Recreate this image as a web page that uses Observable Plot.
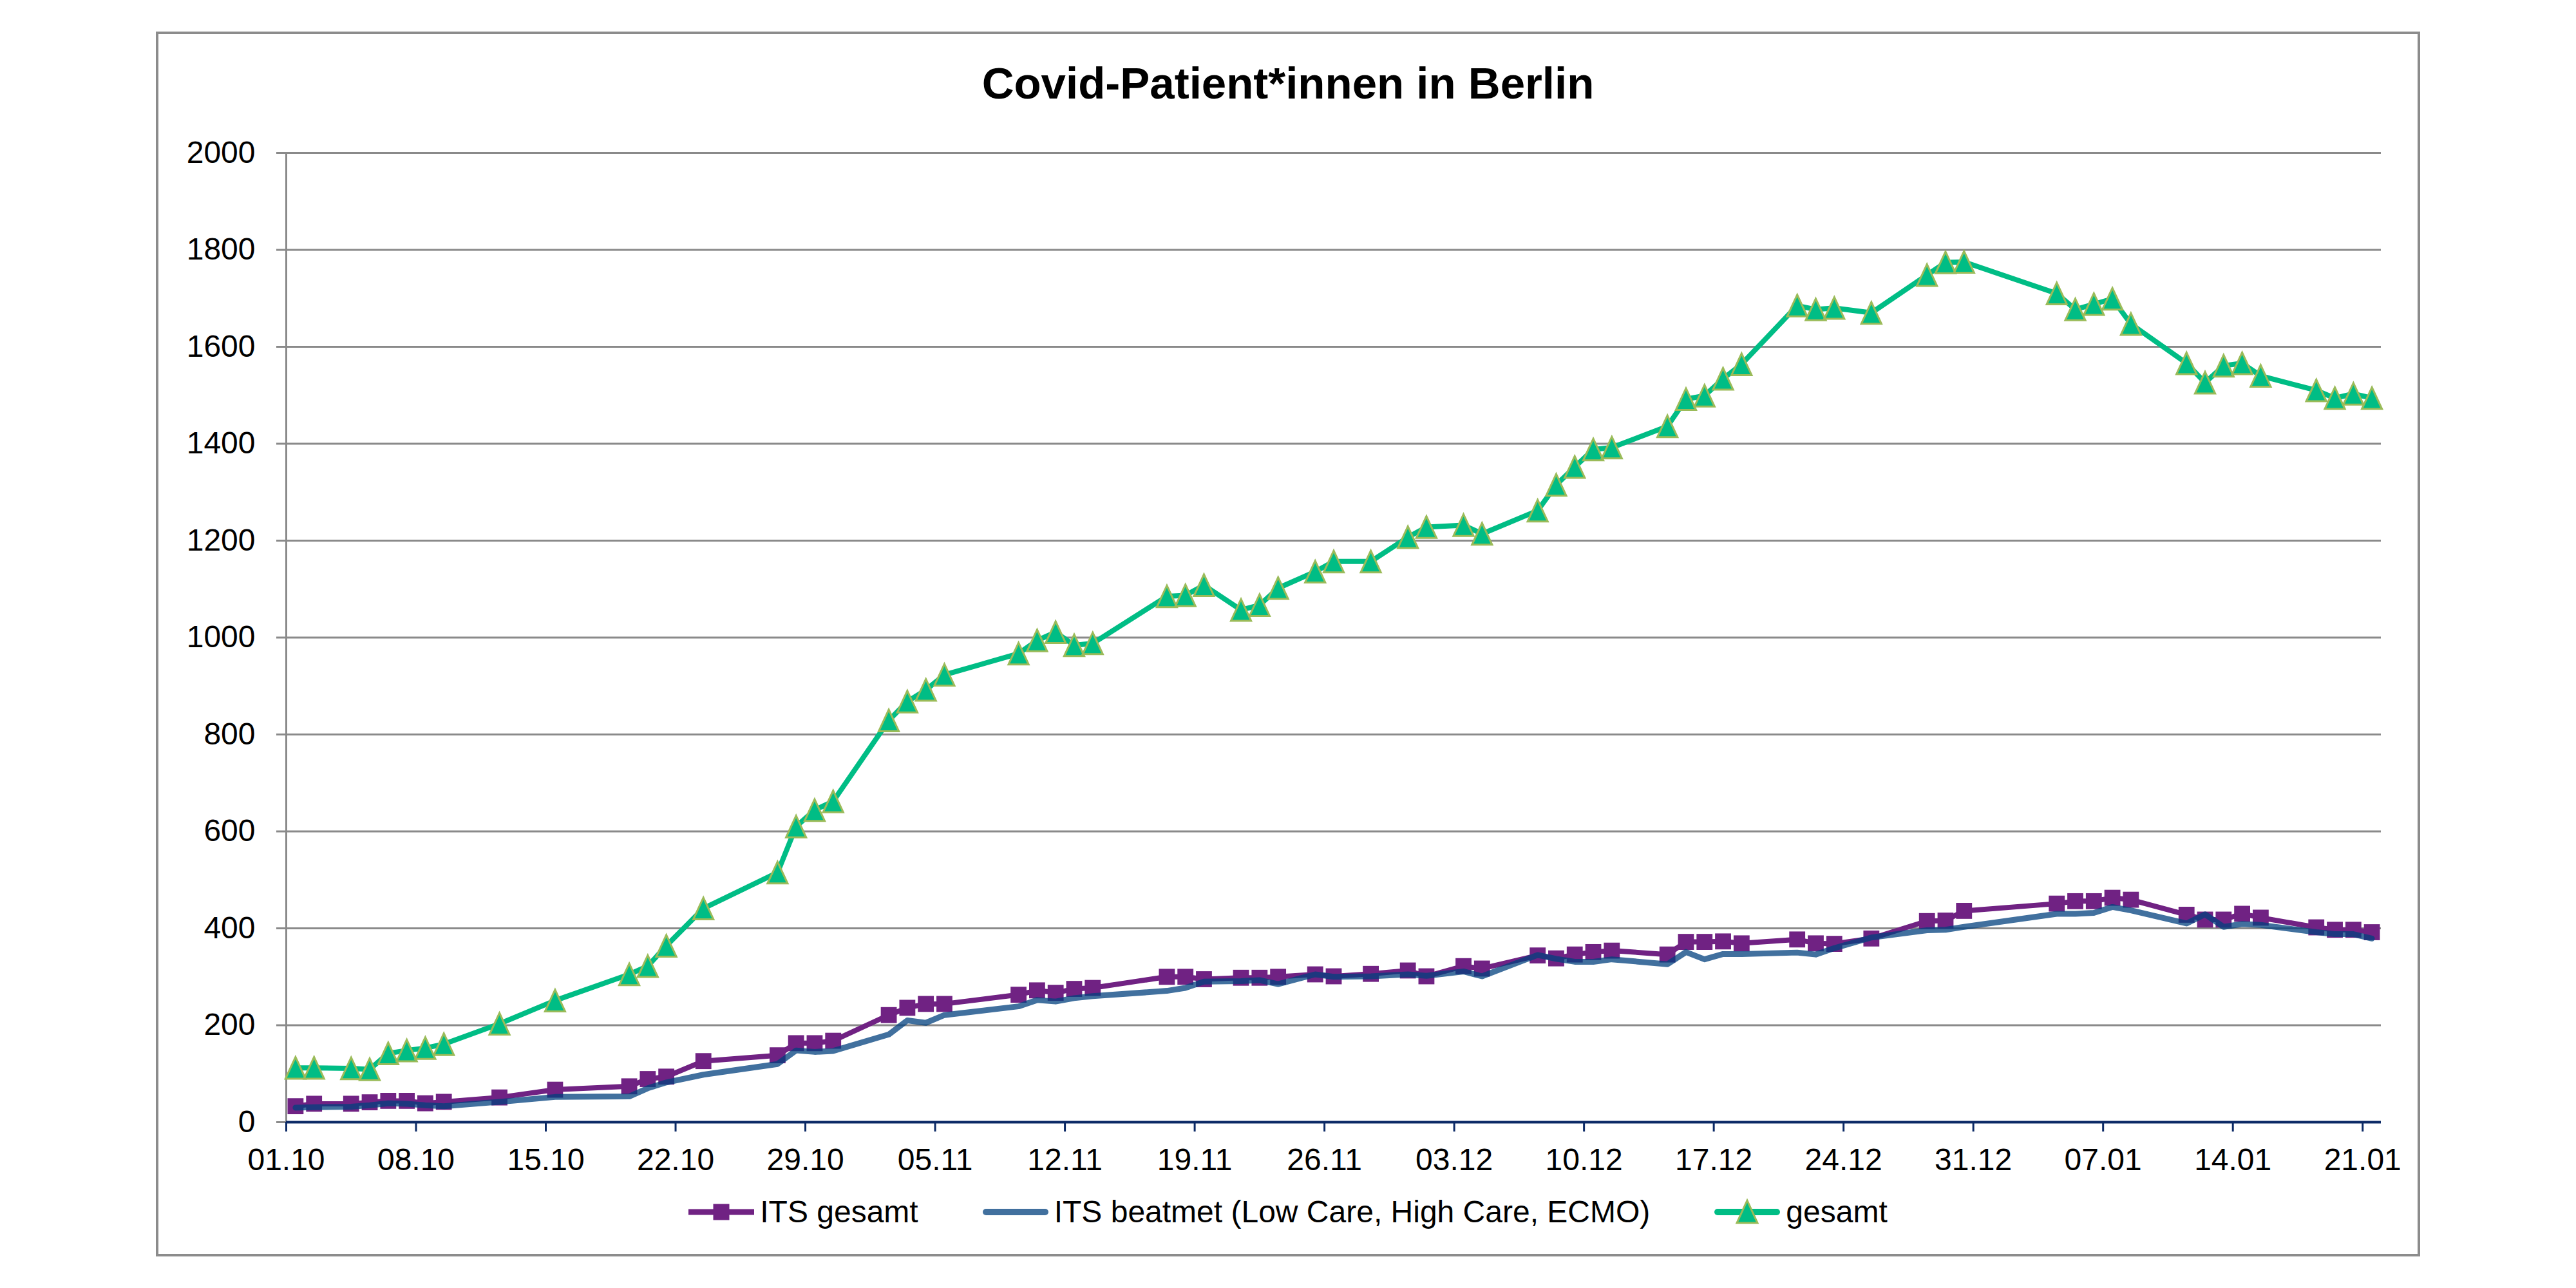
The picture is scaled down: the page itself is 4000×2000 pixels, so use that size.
<!DOCTYPE html>
<html>
<head>
<meta charset="utf-8">
<script src="https://cdn.jsdelivr.net/npm/d3@7"></script>
<script src="https://cdn.jsdelivr.net/npm/@observablehq/plot@0.6"></script>
<style>
html, body { margin: 0; padding: 0; background: #ffffff; }
#page { position: relative; width: 4000px; height: 2000px; overflow: hidden; font-family: "Liberation Sans", Arial, sans-serif; color: #000; }
#frame { position: absolute; left: 242px; top: 49px; width: 3516px; height: 1902px; box-sizing: border-box; border: 4px solid #8c8c8c; }
#title { position: absolute; left: 0; top: 95px; width: 4000px; text-align: center; font-weight: bold; font-size: 69px; line-height: 69px; }
#chart { position: absolute; left: 0; top: 200px; }
#legend { position: absolute; left: 0; top: 1858px; width: 4000px; display: flex; justify-content: center; align-items: center; font-size: 48px; line-height: 48px; }
.item { display: flex; align-items: center; margin: 0 50px; white-space: nowrap; }
.item svg { margin-right: 9px; display: block; }
</style>
</head>
<body>
<div id="page">
  <div id="frame"></div>
  <div id="title">Covid-Patient*innen in Berlin</div>
  <div id="chart"></div>
  <div id="legend"></div>
</div>
<script>
// ---- data ----
const dates = [
  "2020-10-01","2020-10-02","2020-10-04","2020-10-05","2020-10-06","2020-10-07","2020-10-08","2020-10-09",
  "2020-10-12","2020-10-15","2020-10-19","2020-10-20","2020-10-21","2020-10-23",
  "2020-10-27","2020-10-28","2020-10-29","2020-10-30",
  "2020-11-02","2020-11-03","2020-11-04","2020-11-05",
  "2020-11-09","2020-11-10","2020-11-11","2020-11-12","2020-11-13",
  "2020-11-17","2020-11-18","2020-11-19",
  "2020-11-21","2020-11-22","2020-11-23",
  "2020-11-25","2020-11-26","2020-11-28",
  "2020-11-30","2020-12-01","2020-12-03","2020-12-04",
  "2020-12-07","2020-12-08","2020-12-09","2020-12-10","2020-12-11",
  "2020-12-14","2020-12-15","2020-12-16","2020-12-17","2020-12-18",
  "2020-12-21","2020-12-22","2020-12-23","2020-12-25",
  "2020-12-28","2020-12-29","2020-12-30",
  "2021-01-04","2021-01-05","2021-01-06","2021-01-07","2021-01-08",
  "2021-01-11","2021-01-12","2021-01-13","2021-01-14","2021-01-15",
  "2021-01-18","2021-01-19","2021-01-20","2021-01-21"
];
const itsGesamt = [
  33,38,38,41,44,44,39,42,
  51,67,74,89,94,126,
  138,163,163,168,
  221,236,244,244,
  263,272,267,275,277,
  300,300,295,
  298,298,300,
  305,301,306,
  313,301,322,317,
  344,338,346,351,354,
  346,372,372,373,369,
  377,369,368,379,
  415,416,436,
  451,456,456,463,459,
  428,418,418,430,422,
  402,397,397,392
];
const itsBeatmet = [
  30,31,32,35,39,38,35,33,
  42,52,53,70,82,98,
  120,148,145,147,
  181,210,205,221,
  239,252,249,256,260,
  271,277,290,
  291,293,285,
  305,300,301,
  305,302,311,301,
  345,337,331,331,336,
  326,351,336,347,347,
  350,346,359,381,
  396,397,403,
  430,430,432,444,437,
  410,429,403,409,407,
  392,388,388,379
];
const gesamt = [
  112,112,111,109,142,148,153,161,
  203,251,305,322,364,441,
  515,610,644,662,
  829,868,892,923,
  967,994,1011,984,988,
  1085,1087,1108,
  1057,1067,1102,
  1136,1157,1157,
  1207,1228,1232,1214,
  1262,1315,1352,1388,1392,
  1436,1492,1499,1534,1564,
  1685,1677,1680,1670,
  1748,1774,1775,
  1710,1677,1688,1699,1647,
  1566,1526,1561,1566,1540,
  1510,1494,1503,1494
];
const tickLabels = ["01.10","08.10","15.10","22.10","29.10","05.11","12.11","19.11","26.11",
                    "03.12","10.12","17.12","24.12","31.12","07.01","14.01","21.01"];
const yTicks = [0,200,400,600,800,1000,1200,1400,1600,1800,2000];
const seriesNames = ["ITS gesamt", "ITS beatmet (Low Care, High Care, ECMO)", "gesamt"];

// ---- colours ----
const purple = "#702283";
const navy = "#02407e";      // drawn at 0.75 opacity -> steel blue on white
const green = "#00bd85";
const olive = "#9bbb59";
const gridGray = "#8a8a8a";
const axisNavy = "#0c2a66";

// ---- build table (day offset from 01.10.2020, plotted mid-day like Excel) ----
const origin = new Date(Date.UTC(2020, 9, 1));
const dayOf = s => d3.utcDay.count(origin, new Date(s + "T00:00:00Z"));
const data = dates.map((s, i) => ({
  day: dayOf(s) + 0.5,
  its: itsGesamt[i],
  beat: itsBeatmet[i],
  ges: gesamt[i]
}));
const labelDay = lbl => {
  const [dd, mm] = lbl.split(".").map(Number);
  const yr = mm >= 10 ? 2020 : 2021;
  return d3.utcDay.count(origin, new Date(Date.UTC(yr, mm - 1, dd)));
};
const xTicks = tickLabels.map(labelDay);
const labelMap = new Map(tickLabels.map(l => [labelDay(l), l]));
const lastDay = labelDay(tickLabels[tickLabels.length - 1]) + 1;

const triangle = {
  draw(ctx, size) {
    const r = Math.sqrt(size / Math.PI);
    const hw = r * 1.3, hh = r * 1.4;
    ctx.moveTo(0, -hh);
    ctx.lineTo(hw, hh);
    ctx.lineTo(-hw, hh);
    ctx.closePath();
  }
};

const chart = Plot.plot({
  width: 4000,
  height: 1640,
  marginLeft: 444,
  marginRight: 303,
  marginTop: 37,
  marginBottom: 98,
  style: { fontFamily: "'Liberation Sans', Arial, sans-serif", background: "transparent", color: "#000" },
  x: { type: "linear", domain: [0, lastDay], axis: null, label: null },
  y: { domain: [0, 2000], axis: null, label: null },
  marks: [
    Plot.gridY(yTicks, { stroke: gridGray, strokeOpacity: 1, strokeWidth: 3 }),
    Plot.axisY(yTicks, { label: null, tickSize: 15, tickPadding: 33, stroke: gridGray, strokeWidth: 3, fontSize: 48, fill: "#000", tickFormat: d => String(d) }),
    Plot.ruleX([0], { stroke: gridGray, strokeWidth: 3 }),
    Plot.axisX(xTicks, { label: null, tickSize: 15, tickPadding: 25, stroke: axisNavy, strokeWidth: 3, fontSize: 48, fill: "#000", tickFormat: d => labelMap.get(d) }),
    Plot.ruleY([0], { stroke: axisNavy, strokeWidth: 4 }),
    Plot.line(data, { x: "day", y: "its", stroke: purple, strokeWidth: 8 }),
    Plot.dot(data, { x: "day", y: "its", symbol: "square", r: 14, fill: purple, stroke: null }),
    Plot.line(data, { x: "day", y: "beat", stroke: navy, strokeOpacity: 0.75, strokeWidth: 9 }),
    Plot.line(data, { x: "day", y: "ges", stroke: green, strokeWidth: 8 }),
    Plot.dot(data, { x: "day", y: "ges", symbol: triangle, r: 12, fill: green, stroke: olive, strokeWidth: 3 })
  ]
});
document.getElementById("chart").appendChild(chart);

// ---- legend ----
const legend = document.getElementById("legend");
const samples = [
  `<svg width="102" height="40"><line x1="0" x2="102" y1="20" y2="20" stroke="${purple}" stroke-width="9"/><rect x="38.5" y="7.5" width="25" height="25" fill="${purple}"/></svg>`,
  `<svg width="102" height="40"><line x1="5" x2="97" y1="20" y2="20" stroke="${navy}" stroke-opacity="0.75" stroke-width="10" stroke-linecap="round"/></svg>`,
  `<svg width="102" height="44"><line x1="5" x2="97" y1="22" y2="22" stroke="${green}" stroke-width="10" stroke-linecap="round"/><path d="M51,4 L67,39 L35,39 Z" fill="${green}" stroke="${olive}" stroke-width="3"/></svg>`
];
seriesNames.forEach((name, i) => {
  const item = document.createElement("div");
  item.className = "item";
  item.innerHTML = samples[i] + `<span>${name}</span>`;
  legend.appendChild(item);
});
</script>
</body>
</html>
